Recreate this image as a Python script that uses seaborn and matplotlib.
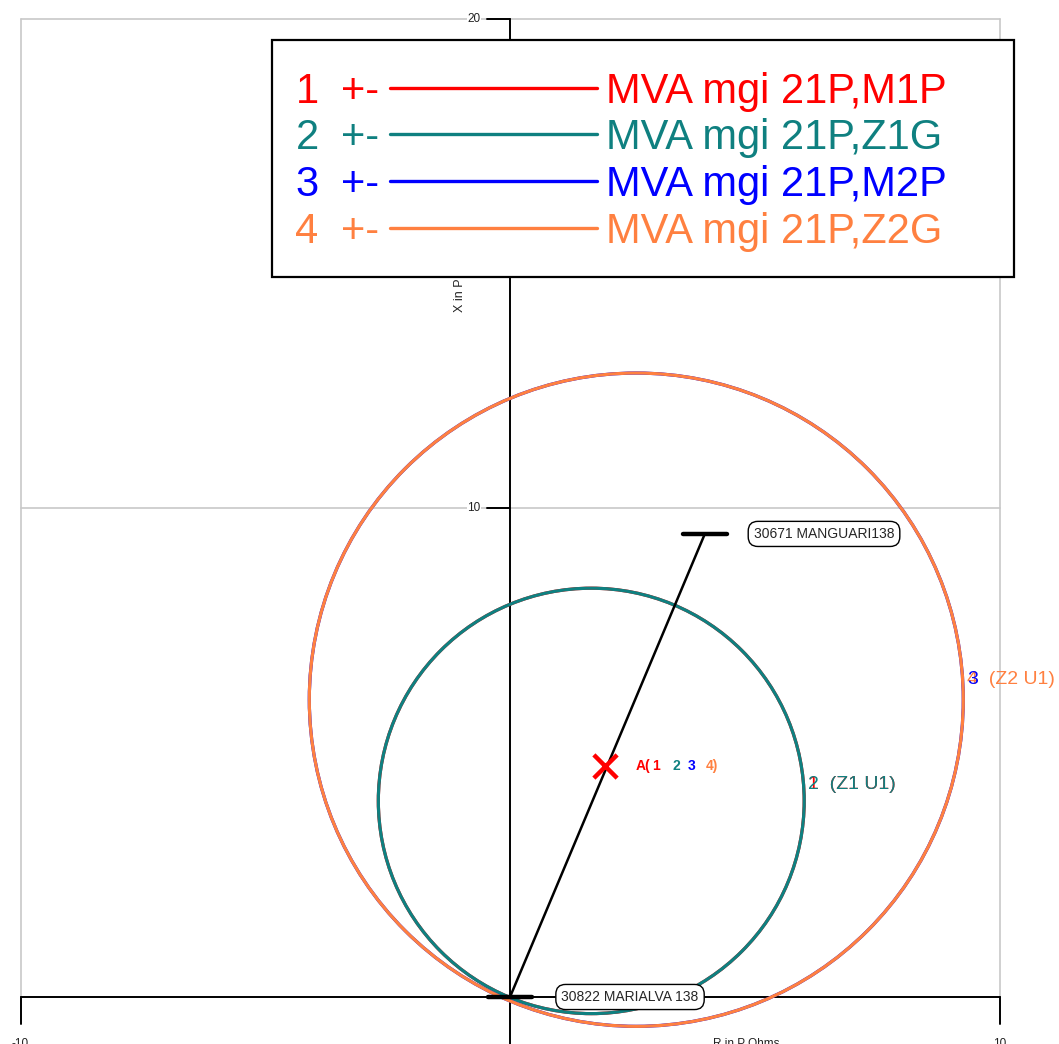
import matplotlib
matplotlib.use("Agg")
import matplotlib.pyplot as plt
import seaborn as sns
import pandas as pd
from matplotlib.patches import Circle, Rectangle
from matplotlib.lines import Line2D

sns.set_style("white")
plt.rcParams['font.family'] = ['Liberation Sans', 'DejaVu Sans']

# ---- data ----
zone_ids = [1, 2, 3, 4]
zone_names = ["MVA mgi 21P,M1P", "MVA mgi 21P,Z1G", "MVA mgi 21P,M2P", "MVA mgi 21P,Z2G"]
zone_colors = ["#ff0000", "#0f8080", "#0000ff", "#ff8040"]
circle_cx = [1.66, 1.66, 2.58, 2.58]
circle_cy = [4.01, 4.01, 6.08, 6.08]
circle_r = [4.35, 4.35, 6.68, 6.68]
zone_tags = ["(Z1 U1)", "(Z1 U1)", "(Z2 U1)", "(Z2 U1)"]

line_r = [0.0, 3.98]
line_x = [0.0, 9.47]
bus_names = ["30822 MARIALVA 138", "30671 MANGUARI138"]
fault_r = [1.94]
fault_x = [4.73]

x_ticks = [-10, 10]
y_ticks = [10, 20]

# ---- figure ----
W, H = 1059, 1044
fig = plt.figure(figsize=(W / 100, H / 100), dpi=100)
ax = fig.add_axes([0, 0, 1, 1])
sx = 48.95
sy = 48.9
ax.set_xlim(-510 / sx, (W - 510) / sx)
ax.set_ylim(-(H - 997) / sy, 997 / sy)
ax.set_aspect('auto')
for s in ax.spines.values():
    s.set_visible(False)
ax.set_xticks([])
ax.set_yticks([])

grey = "#c8c8c8"
# grid
for xv in x_ticks:
    ax.plot([xv, xv], [0, 20], color=grey, lw=1.2, zorder=1)
for yv in y_ticks:
    ax.plot([-10, 10], [yv, yv], color=grey, lw=1.2, zorder=1)

# axes lines
ax.plot([-10, 10], [0, 0], color="black", lw=1.4, zorder=2)
ax.plot([0, 0], [-2, 20], color="black", lw=1.4, zorder=2)
for xv in x_ticks:
    ax.plot([xv, xv], [0, -0.55], color="black", lw=1.4, zorder=2)
    ax.text(xv, -0.84, str(xv), ha="center", va="top", fontsize=8.5, color="#222222")
for yv in y_ticks:
    ax.plot([-0.48, 0], [yv, yv], color="black", lw=1.4, zorder=2)
    ax.text(-0.6, yv, str(yv), ha="right", va="center", fontsize=8.5, color="#222222",
            bbox=dict(facecolor="white", edgecolor="none", pad=0.5))
ax.text(4.15, -0.84, "R in P Ohms", ha="left", va="top", fontsize=8.5, color="#222222")
ax.text(-1.02, 14.0, "X in P Ohms", ha="center", va="bottom", rotation=90,
        fontsize=9, color="#222222", zorder=3)

# circles
for cx, cy, r, c in zip(circle_cx, circle_cy, circle_r, zone_colors):
    ax.add_patch(Circle((cx, cy), r, fill=False, edgecolor=c, lw=2.3, zorder=4))

# impedance line
df_line = pd.DataFrame({"R": line_r, "X": line_x})
sns.lineplot(data=df_line, x="R", y="X", color="black", lw=1.8, sort=False,
             ax=ax, zorder=5, legend=False)
for rr, xx in zip(line_r, line_x):
    ax.plot([rr - 0.45, rr + 0.45], [xx, xx], color="black", lw=3.2,
            solid_capstyle="round", zorder=5)

# bus labels
box = dict(boxstyle="round,pad=0.4,rounding_size=0.7", facecolor="white",
           edgecolor="black", lw=1.0)
ax.text(line_r[0] + 1.05, line_x[0], bus_names[0], ha="left", va="center",
        fontsize=10, bbox=box, zorder=6)
ax.text(line_r[1] + 1.0, line_x[1], bus_names[1], ha="left", va="center",
        fontsize=10, bbox=box, zorder=6)

# fault marker
df_f = pd.DataFrame({"R": fault_r, "X": fault_x})
sns.scatterplot(data=df_f, x="R", y="X", marker="x", s=280, color="#ff0000",
                linewidth=3.2, ax=ax, zorder=7, legend=False)

# A(1 2 3 4) label
fx, fy = fault_r[0], fault_x[0]
pieces = [("A(", "#ff0000", 0.0), ("1", "#ff0000", 0.34), ("2", zone_colors[1], 0.74),
          ("3", zone_colors[2], 1.07), ("4)", zone_colors[3], 1.42)]
for txt, col, dx in pieces:
    ax.text(fx + 0.63 + dx, fy, txt, color=col, fontsize=10, fontweight="bold",
            ha="left", va="center", zorder=7)

# zone tags at circle right edges
tag_dy = {0: 16, 1: 16, 2: 20, 3: 20}
for i in [0, 1, 3]:
    ax.annotate(f"{zone_ids[i]}  {zone_tags[i]}",
                (circle_cx[i] + circle_r[i], circle_cy[i]),
                xytext=(3, tag_dy[i] * 0.72), textcoords="offset points",
                color=zone_colors[i], fontsize=14, ha="left", va="center", zorder=7)
ax.annotate(f"{zone_ids[2]}", (circle_cx[2] + circle_r[2], circle_cy[2]),
            xytext=(3, tag_dy[2] * 0.72), textcoords="offset points",
            color=zone_colors[2], fontsize=14, ha="left", va="center", zorder=8)

# legend box (figure pixel coords)
def fx_(px):
    return px / W

def fy_(py):
    return 1 - py / H

fig.patches.append(Rectangle((fx_(272), fy_(277)), fx_(1014) - fx_(272), fy_(40) - fy_(277),
                             transform=fig.transFigure, facecolor="white",
                             edgecolor="black", lw=1.6, zorder=20))
row_y = [88, 134, 181, 228]
for i in range(4):
    c = zone_colors[i]
    y = row_y[i]
    fig.text(fx_(307), fy_(y + 15), str(zone_ids[i]), color=c, fontsize=30,
             ha="center", va="baseline", zorder=21)
    fig.text(fx_(341), fy_(y + 15), "+-", color=c, fontsize=30,
             ha="left", va="baseline", zorder=21)
    fig.lines.append(Line2D([fx_(390), fx_(597)], [fy_(y), fy_(y)], color=c, lw=2.4,
                            transform=fig.transFigure, zorder=21))
    fig.text(fx_(606), fy_(y + 15), zone_names[i], color=c, fontsize=30,
             ha="left", va="baseline", zorder=21)

fig.savefig("out.png", dpi=100)
